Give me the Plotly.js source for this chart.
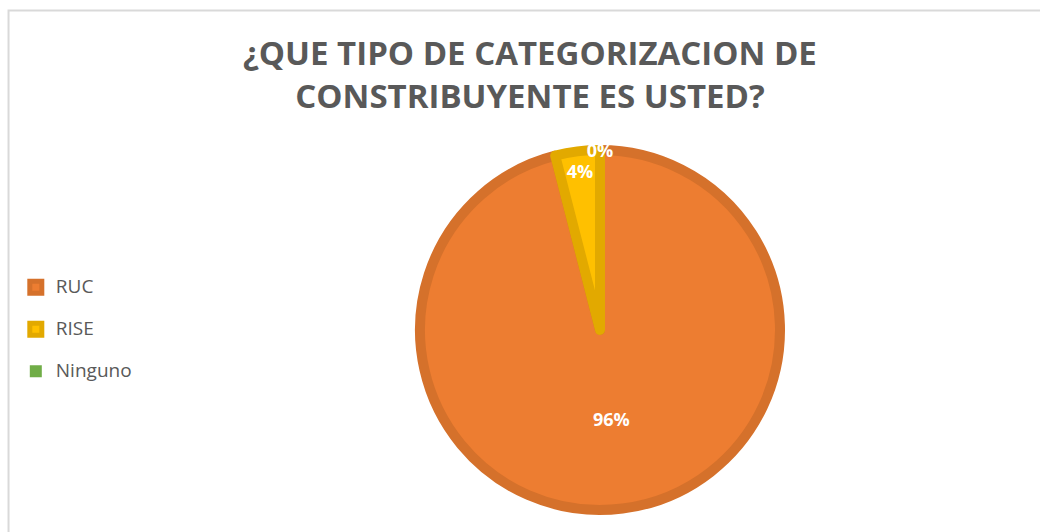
<!DOCTYPE html>
<html>
<head>
<meta charset="utf-8">
<script src="https://cdn.plot.ly/plotly-3.0.1.min.js"></script>
<style>html,body{margin:0;padding:0;background:#fff;}#chart{width:1040px;height:532px;}</style>
</head>
<body>
<div id="chart"></div>
<script>
const categories = ["RUC", "RISE", "Ninguno"];
const values = [96, 4, 0];
const sliceColors = ["#ED7D31", "#FFC000", "#70AD47"];
const borderColors = ["#D5712B", "#E2A900", "#5F9A3B"];
const borderWidths = [10, 10, 0];
const titleText = "¿QUE TIPO DE CATEGORIZACION DE<br>CONSTRIBUYENTE ES USTED?";

// trailing line break gives each legend entry extra height (Excel-like spacing)
const legendLabels = categories.map(c => '<span style="font-size:19px">' + c + '</span><br>');

const trace = {
  type: "pie",
  labels: legendLabels,
  values: values,
  sort: false,
  direction: "clockwise",
  rotation: 0,
  marker: { colors: sliceColors, line: { color: borderColors, width: borderWidths } },
  textinfo: "percent",
  texttemplate: "%{percent:.0%}",
  textposition: "inside",
  insidetextorientation: "horizontal",
  textfont: { family: "Open Sans", size: 18, color: "#FFFFFF", weight: "bold" },
  hoverinfo: "percent",
  domain: { x: [0.40385, 0.75], y: [0.04135, 0.71805] }
};

const layout = {
  width: 1040,
  height: 532,
  margin: { l: 0, r: 0, t: 0, b: 0 },
  paper_bgcolor: "#FFFFFF",
  title: {
    text: titleText,
    font: { family: "Open Sans", size: 33, color: "#595959", weight: "bold" },
    x: 0.5096, xanchor: "center", xref: "container",
    y: 0.8774, yanchor: "top", yref: "container"
  },
  showlegend: true,
  legend: {
    x: 0.0152, xanchor: "left",
    y: 0.3628, yanchor: "middle",
    valign: "top",
    font: { family: "Open Sans", size: 15, color: "#595959" },
    bgcolor: "rgba(0,0,0,0)"
  },
  uniformtext: { mode: "show", minsize: 18 },
  shapes: [{
    type: "rect", xref: "paper", yref: "paper",
    x0: 0.0082, x1: 1.02, y0: -0.05, y1: 0.9803,
    line: { color: "#D9D9D9", width: 2 }, fillcolor: "rgba(0,0,0,0)", layer: "below"
  }]
};

Plotly.newPlot("chart", [trace], layout, { displayModeBar: false, staticPlot: true });
</script>
</body>
</html>
